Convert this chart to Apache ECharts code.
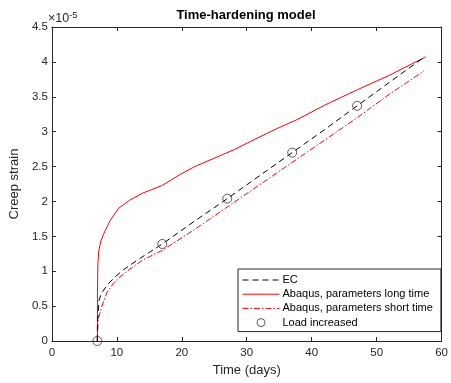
<!DOCTYPE html>
<html>
<head>
<meta charset="utf-8">
<script src="https://cdn.jsdelivr.net/npm/echarts@6/dist/echarts.min.js"></script>
<style>
html,body{margin:0;padding:0;background:#fff;}
#chart{width:451px;height:383px;}
</style>
</head>
<body>
<div id="chart"></div>
<script>
// Strain values in units of 1e-5
var ecTime   = [7, 7.05, 7.25, 7.6, 8.5, 9.5, 11, 13.5, 15, 17, 22, 27, 32, 37, 42, 47, 52, 57.5];
var ecStrain = [0, 0.30, 0.58, 0.68, 0.80, 0.90, 1.02, 1.18, 1.27, 1.39, 1.72, 2.04, 2.37, 2.70, 3.03, 3.37, 3.71, 4.08];

var longTime   = [7, 7.02, 7.08, 7.2, 7.5, 7.9, 8.25, 9, 10.25, 12, 14, 17, 19.6, 22, 25, 28, 31, 35, 37.7, 42, 47, 52, 57.5];
var longStrain = [0, 0.70, 1.10, 1.28, 1.42, 1.52, 1.59, 1.73, 1.90, 2.02, 2.12, 2.23, 2.38, 2.50, 2.62, 2.74, 2.88, 3.06, 3.17, 3.38, 3.60, 3.81, 4.07];

var shortTime   = [7, 7.1, 7.7, 8.5, 9.5, 10.5, 12, 14, 17, 22, 27, 32, 37, 42, 47, 52, 57.3];
var shortStrain = [0, 0.30, 0.50, 0.70, 0.83, 0.92, 1.03, 1.16, 1.30, 1.60, 1.92, 2.24, 2.56, 2.88, 3.20, 3.54, 3.87];

var loadTime   = [7, 17, 27, 37, 47];
var loadStrain = [0, 1.39, 2.04, 2.70, 3.37];

var xTicks = [0, 10, 20, 30, 40, 50, 60];
var yTicks = [0, 0.5, 1, 1.5, 2, 2.5, 3, 3.5, 4, 4.5];

var seriesNames = ['EC', 'Abaqus, parameters long time', 'Abaqus, parameters short time', 'Load increased'];

function pairs(xs, ys){ return xs.map(function(x,i){ return [x, ys[i]]; }); }

var axisColor = '#262626';
var font = 'Liberation Sans, Arial, Helvetica, sans-serif';

var chart = echarts.init(document.getElementById('chart'), null, {renderer:'canvas'});
var option = {
  animation: false,
  backgroundColor: '#fff',
  textStyle: {fontFamily: font},
  title: {
    text: 'Time-hardening model',
    left: 246, top: 9, textAlign: 'center', padding: 0,
    textStyle: {fontSize: 13, fontWeight: 'bold', color: '#000', fontFamily: font}
  },
  grid: {left: 47, right: 6, top: 27, bottom: 42, containLabel: false},
  legend: {
    orient: 'vertical',
    left: 238, top: 269,
    data: [
      {name: seriesNames[0], itemStyle: {opacity: 0}},
      {name: seriesNames[1], itemStyle: {opacity: 0}},
      {name: seriesNames[2], itemStyle: {opacity: 0}},
      {name: seriesNames[3], itemStyle: {borderWidth: 1, borderColor: '#333', color: 'rgba(0,0,0,0)'}}
    ],
    itemWidth: 37, itemHeight: 8, itemGap: 0.2,
    padding: [4, 8, 2, 4],
    borderColor: axisColor, borderWidth: 1,
    backgroundColor: '#fff',
    lineStyle: {width: 1},
    textStyle: {fontSize: 11, lineHeight: 14, color: '#000', fontFamily: font, padding: [0,0,0,-2]}
  },
  xAxis: [{
    type: 'value', min: 0, max: 60, interval: 10,
    name: 'Time (days)', nameLocation: 'middle', nameGap: 13,
    nameTextStyle: {fontSize: 13, color: axisColor, fontFamily: font, verticalAlign: 'top'},
    axisLine: {show: true, lineStyle: {color: axisColor, width: 1}},
    axisTick: {show: true, inside: true, length: 4, lineStyle: {color: axisColor}},
    axisLabel: {fontSize: 11.5, color: axisColor, margin: 6, fontFamily: font,
      formatter: function(v){ return xTicks.indexOf(v) >= 0 ? String(v) : ''; }},
    splitLine: {show: false}
  }, {
    type: 'value', min: 0, max: 60, interval: 10, position: 'top',
    axisLine: {show: true, onZero: false, lineStyle: {color: axisColor, width: 1}},
    axisTick: {show: true, inside: true, length: 4, lineStyle: {color: axisColor}},
    axisLabel: {show: false}, splitLine: {show: false}
  }],
  yAxis: [{
    type: 'value', min: 0, max: 4.5, interval: 0.5,
    name: 'Creep strain', nameLocation: 'middle', nameGap: 26, nameRotate: 90,
    nameTextStyle: {fontSize: 13, color: axisColor, fontFamily: font},
    axisLine: {show: true, lineStyle: {color: axisColor, width: 1}},
    axisTick: {show: true, inside: true, length: 4, lineStyle: {color: axisColor}},
    axisLabel: {fontSize: 11.5, color: axisColor, margin: 4, fontFamily: font,
      formatter: function(v){ return yTicks.indexOf(v) >= 0 ? String(v) : ''; }},
    splitLine: {show: false}
  }, {
    type: 'value', min: 0, max: 4.5, interval: 0.5, position: 'right',
    axisLine: {show: true, onZero: false, lineStyle: {color: axisColor, width: 1}},
    axisTick: {show: true, inside: true, length: 4, lineStyle: {color: axisColor}},
    axisLabel: {show: false}, splitLine: {show: false}
  }],
  graphic: [{
    type: 'text', left: 48, top: 10,
    style: {
      text: '{a|×10}{b|-5}',
      rich: {
        a: {fontSize: 12.5, fill: axisColor, fontFamily: font},
        b: {fontSize: 9.5, fill: axisColor, fontFamily: font, verticalAlign: 'top', padding: [0,0,7,0]}
      }
    }
  }],
  series: [{
    name: seriesNames[0], type: 'line', data: pairs(ecTime, ecStrain),
    symbol: 'none', smooth: false, z: 3,
    lineStyle: {color: '#000', width: 1, type: [6, 4]},
    itemStyle: {color: '#000'}
  }, {
    name: seriesNames[1], type: 'line', data: pairs(longTime, longStrain),
    symbol: 'none', z: 2,
    lineStyle: {color: '#ff0000', width: 1, type: 'solid'},
    itemStyle: {color: '#ff0000'}
  }, {
    name: seriesNames[2], type: 'line', data: pairs(shortTime, shortStrain),
    symbol: 'none', z: 2,
    lineStyle: {color: '#ff0000', width: 1, type: [6, 2, 1.5, 2]},
    itemStyle: {color: '#ff0000'}
  }, {
    name: seriesNames[3], type: 'scatter', data: pairs(loadTime, loadStrain),
    symbol: 'circle', symbolSize: 9, z: 4,
    itemStyle: {color: 'rgba(0,0,0,0)', borderColor: '#333', borderWidth: 1}
  }]
};
chart.setOption(option);
</script>
</body>
</html>
